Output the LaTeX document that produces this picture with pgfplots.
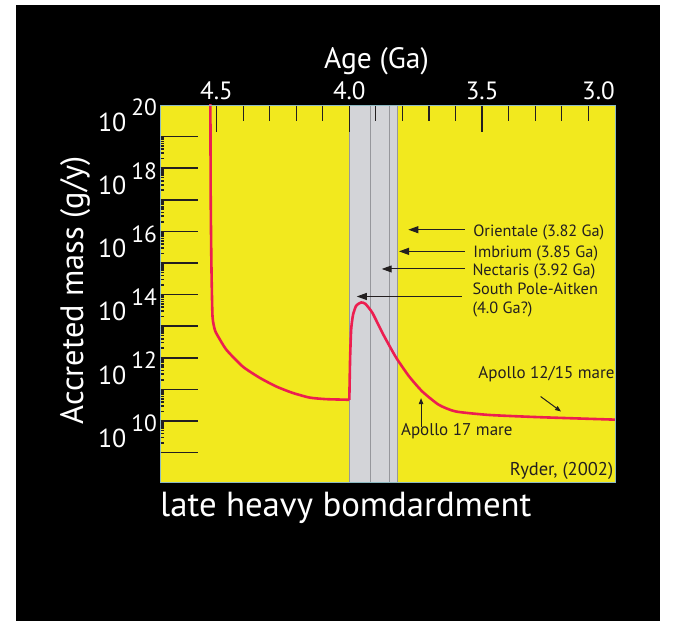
\documentclass[border=0pt]{standalone}
\usepackage{fontspec}
\setmainfont{PT Sans}
\usepackage{pgfplots}
\pgfplotsset{compat=1.18}
\usetikzlibrary{arrows.meta}

\definecolor{plotyellow}{RGB}{242,233,30}
\definecolor{curvered}{RGB}{236,30,80}
\definecolor{bandgray}{RGB}{211,212,216}
\definecolor{bandline}{RGB}{150,151,156}
\definecolor{frameblue}{RGB}{140,185,195}
\definecolor{tickdark}{RGB}{35,31,32}

% power-of-ten tick label with a large superscript
\newcommand{\tl}[1]{10\hspace{5pt}\raisebox{15.3pt}{\fontsize{23.5}{23.5}\selectfont #1}}

\begin{document}
\begin{tikzpicture}[x=1pt,y=1pt]
\useasboundingbox (0,0) rectangle (673,621);
\fill[white] (0,0) rectangle (673,621);
\fill[black] (16,0) rectangle (660,616);

% main panel: age axis on top, curve, impact-basin band and notes
\begin{axis}[
  name=main,
  at={(160.7pt,139pt)}, anchor=south west,
  scale only axis, width=454.3pt, height=377pt,
  x dir=reverse, xmin=3.0, xmax=4.71,
  ymode=log, ymin=1.17e8, ymax=1e20,
  axis background/.style={fill=plotyellow},
  axis line style={draw=frameblue, line width=0.9pt},
  axis on top,
  tick align=inside,
  xtick pos=upper, xticklabel pos=upper,
  xtick={4.5,4.0,3.5},
  xticklabels={4.5,4.0,3.5},
  minor xtick={4.4,4.3,4.2,4.1,3.9,3.8,3.7,3.6,3.4,3.3,3.2,3.1},
  major tick length=27pt, minor tick length=16pt,
  tick style={draw=tickdark},
  major tick style={line width=1.6pt},
  minor tick style={line width=1.1pt},
  ytick=\empty,
  xticklabel style={font=\fontsize{25}{25}\selectfont, text=white,
    anchor=base, inner sep=0pt, yshift=5pt},
  xlabel={Age (Ga)},
  xlabel style={font=\fontsize{29.5}{29.5}\selectfont, text=white,
    at={(axis description cs:0.475,1.098)}, anchor=base},
]
% basin band 4.0--3.82 Ga
\fill[bandgray] (axis cs:4.0,1.17e8) rectangle (axis cs:3.82,1e20);
\foreach \a in {4.0,3.92,3.85,3.82}{
  \edef\tmp{\noexpand\draw[bandline, line width=1pt] (axis cs:\a,1.17e8) -- (axis cs:\a,1e20);}
  \tmp
}

% early accretion tail
\addplot[curvered, line width=2.6pt, smooth, tension=0.35, line join=round] coordinates {
  (4.523,1.6e20) (4.5217,1e17) (4.519,7.76e14) (4.515,2.04e13)
  (4.506,7.59e12) (4.497,5.25e12) (4.4625,1.78e12) (4.401,5.25e11)
  (4.338,2.34e11) (4.275,1.23e11) (4.214,7.76e10) (4.150,5.50e10)
  (4.0875,4.90e10) (4.0,4.68e10)
};
% cataclysm spike and decline
\addplot[curvered, line width=2.6pt, smooth, tension=0.35, line join=round] coordinates {
  (4.0,4.68e10) (3.997,1e12) (3.993,7.94e12) (3.986,2.29e13)
  (3.974,4.47e13) (3.956,5.62e13) (3.940,5.13e13) (3.913,2.63e13)
  (3.875,6.03e12) (3.825,1.05e12) (3.775,2.57e11)
  (3.725,8.51e10) (3.663,3.24e10) (3.600,2.0e10) (3.475,1.55e10)
  (3.288,1.32e10) (3.0,1.10e10)
};

% basin notes
\begin{scope}[every node/.style={anchor=base west, inner sep=0pt, text=tickdark,
    font=\fontsize{16.3}{16.3}\selectfont}]
\node at (axis cs:3.534,6.95e15) {Orientale (3.82 Ga)};
\node at (axis cs:3.534,1.50e15) {Imbrium (3.85 Ga)};
\node at (axis cs:3.537,4.16e14) {Nectaris (3.92 Ga)};
\node at (axis cs:3.537,1.01e14) {South Pole-Aitken};
\node at (axis cs:3.537,2.53e13) {(4.0 Ga?)};
\end{scope}
\begin{scope}[every node/.style={anchor=base west, inner sep=0pt, text=tickdark,
    font=\fontsize{17}{17}\selectfont}]
\node at (axis cs:3.515,2.21e11) {Apollo 12/15 mare};
\node at (axis cs:3.806,3.38e9) {Apollo 17 mare};
\node[anchor=base east, font=\fontsize{18.5}{18.5}\selectfont] at (axis cs:3.006,1.83e8) {Ryder, (2002)};
\end{scope}
\begin{scope}[tickdark, line width=1pt]
\draw[-{Triangle[length=10pt,width=7pt]}] (axis cs:3.565,1.13e16) -- (axis cs:3.778,1.13e16);
\draw[-{Triangle[length=10pt,width=7pt]}] (axis cs:3.565,2.33e15) -- (axis cs:3.813,2.33e15);
\draw[-{Triangle[length=10pt,width=7pt]}] (axis cs:3.565,6.46e14) -- (axis cs:3.878,6.46e14);
\draw[-{Triangle[length=10pt,width=7pt]}] (axis cs:3.577,8.7e13) -- (axis cs:3.972,8.7e13);
\draw[-{Triangle[length=6pt,width=4.5pt]}] (axis cs:3.280,5.94e10) -- (axis cs:3.203,1.99e10);
\draw[-{Triangle[length=6pt,width=4.5pt]}] (axis cs:3.730,6.67e9) -- (axis cs:3.730,5.28e10);
\end{scope}
\end{axis}

% mass axis: decade ticks on the left
\begin{axis}[
  at={(160.7pt,139pt)}, anchor=south west,
  scale only axis, width=454.3pt, height=377pt,
  x dir=reverse, xmin=3.0, xmax=4.71,
  ymode=log, ymin=1.17e8, ymax=1e20,
  axis line style={draw=none},
  xtick=\empty,
  tick align=inside, ytick pos=left,
  ytick={1e9,1e10,1e11,1e12,1e13,1e14,1e15,1e16,1e17,1e18,1e19},
  yticklabels={,\tl{10},,\tl{12},,\tl{14},,\tl{16},,\tl{18},},
  major tick length=37pt,
  tick style={draw=tickdark, line width=1.6pt},
  yticklabel style={font=\fontsize{26}{26}\selectfont, text=white,
    anchor=base east, inner sep=0pt, xshift=-3.5pt, yshift=-26.3pt},
  ylabel={Accreted mass (g/y)},
  ylabel style={font=\fontsize{32.4}{32.4}\selectfont, text=white,
    at={(axis description cs:-0.171,0.509)}, anchor=base},
]
\end{axis}

% labels at the axis corners
\node[anchor=base east, inner sep=0pt, text=white, font=\fontsize{26}{26}\selectfont]
  at ([xshift=-3.5pt,yshift=-26.3pt]main.north west) {\tl{20}};
\node[anchor=base east, inner sep=0pt, text=white, font=\fontsize{25}{25}\selectfont]
  at ([yshift=5pt]main.north east) {3.0};

\node[anchor=base west, inner sep=0pt, text=white, font=\fontsize{34.8}{34.8}\selectfont]
  at (160,104) {late heavy bomdardment};
\end{tikzpicture}
\end{document}
